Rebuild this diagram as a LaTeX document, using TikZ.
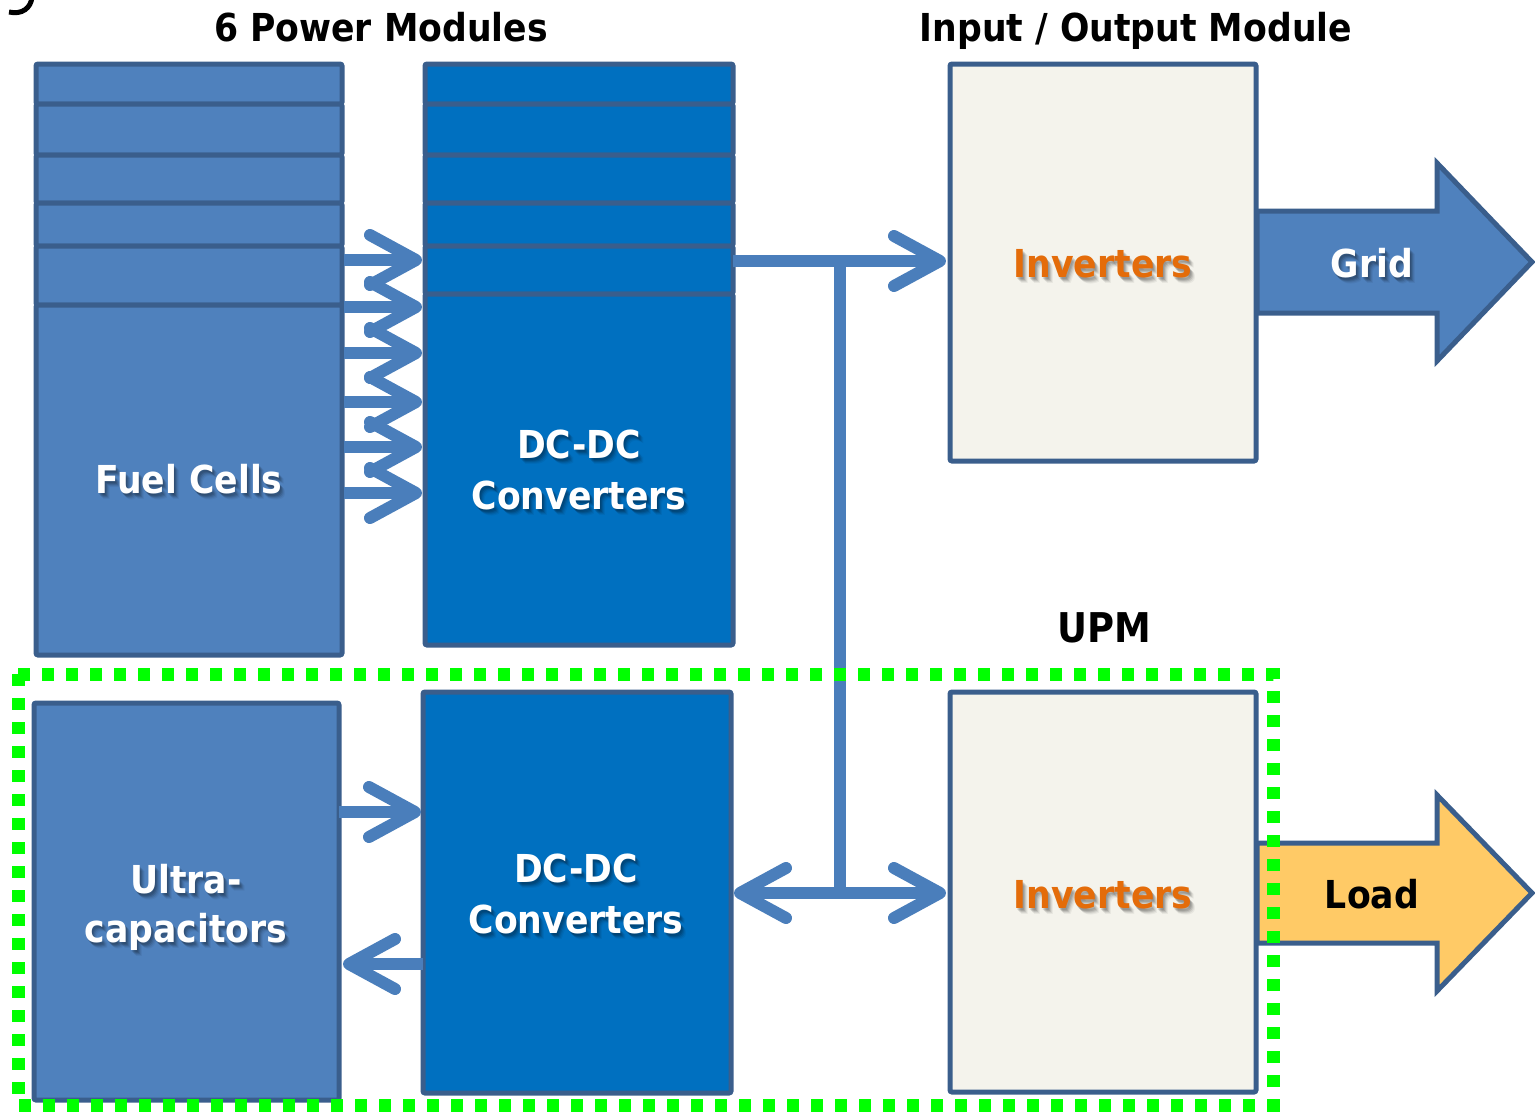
\documentclass[tikz,border=0pt]{standalone}
\usepackage{fontspec}
\setmainfont{DejaVu Sans Condensed}
\usetikzlibrary{arrows.meta,calc}

\definecolor{fcblue}{HTML}{4F81BD}
\definecolor{edgeblue}{HTML}{3A5E8C}
\definecolor{dcblue}{HTML}{0070C0}
\definecolor{invfill}{HTML}{F4F3EC}
\definecolor{invtext}{HTML}{E46C0A}
\definecolor{loadfill}{HTML}{FFCA66}
\definecolor{linkblue}{HTML}{4A7EBB}
\definecolor{upmgreen}{HTML}{00FF00}

% label with a soft drop shadow: name, position, style, text
\newcommand{\ShadowLabel}[4]{%
  \foreach \dx/\dy/\op in {1/2/0.10,2/3/0.12,3/4/0.10,4/5/0.07,5/6/0.05}
    \node[#3, text=black, opacity=\op, anchor=base] at ($(#2)+(\dx,\dy)$) {#4};
  \node[#3, anchor=base] (#1) at (#2) {#4};
}

\begin{document}
\begin{tikzpicture}[x=1pt,y=-1pt,
  block/.style={draw=edgeblue, line width=5pt, rounded corners=2pt,
    anchor=north west, inner sep=0pt, outer sep=0pt},
  fcblock/.style={block, fill=fcblue},
  dcblock/.style={block, fill=dcblue},
  invblock/.style={block, fill=invfill},
  bigarrow/.style={draw=edgeblue, line width=5pt, line join=miter},
  link/.style={draw=linkblue, line width=12pt,
    -{Straight Barb[length=46pt,width=50pt,round]}},
  trunk/.style={draw=linkblue, line width=12pt},
  header/.style={font=\bfseries\fontsize{38.5}{46}\selectfont, text=black, inner sep=0pt},
  boxlabel/.style={font=\bfseries\fontsize{38.5}{46}\selectfont, text=white, inner sep=0pt},
  invlabel/.style={font=\bfseries\fontsize{38.5}{46}\selectfont, text=invtext, inner sep=0pt},
  upmframe/.style={draw=upmgreen, line width=13pt, dash pattern=on 12pt off 12pt},
]
\useasboundingbox (0,0) rectangle (1535,1112);

% tail of a glyph cut off at the top edge
\draw[line width=5pt] (9,12) .. controls (22,15) and (31,8) .. (32,-3);

% fuel cell stack
\node[fcblock, minimum width=306pt, minimum height=40pt]  (fc1) at (36,64)  {};
\node[fcblock, minimum width=306pt, minimum height=51pt]  (fc2) at (36,104) {};
\node[fcblock, minimum width=306pt, minimum height=48pt]  (fc3) at (36,155) {};
\node[fcblock, minimum width=306pt, minimum height=43pt]  (fc4) at (36,203) {};
\node[fcblock, minimum width=306pt, minimum height=59pt]  (fc5) at (36,246) {};
\node[fcblock, minimum width=306pt, minimum height=350pt] (fc6) at (36,305) {};

% DC-DC converter stack
\node[dcblock, minimum width=308pt, minimum height=40pt]  (dc1) at (425,64)  {};
\node[dcblock, minimum width=308pt, minimum height=51pt]  (dc2) at (425,104) {};
\node[dcblock, minimum width=308pt, minimum height=48pt]  (dc3) at (425,155) {};
\node[dcblock, minimum width=308pt, minimum height=43pt]  (dc4) at (425,203) {};
\node[dcblock, minimum width=308pt, minimum height=48pt]  (dc5) at (425,246) {};
\node[dcblock, minimum width=308pt, minimum height=351pt] (dc6) at (425,294) {};

% UPM blocks
\node[fcblock, minimum width=305pt, minimum height=397pt] (uc)  at (34,703)  {};
\node[dcblock, minimum width=308pt, minimum height=401pt] (dc7) at (423,692) {};

% output arrows
\draw[bigarrow, fill=fcblue] (1257,211) -- (1437,211) -- (1437,163) -- (1532,262)
  -- (1437,361) -- (1437,313) -- (1257,313) -- cycle;
\draw[bigarrow, fill=loadfill] (1257,843) -- (1437,843) -- (1437,795) -- (1532,893)
  -- (1437,991) -- (1437,943) -- (1257,943) -- cycle;

% inverter blocks
\node[invblock, minimum width=306pt, minimum height=397pt] (inv1) at (950,64)  {};
\node[invblock, minimum width=306pt, minimum height=400pt] (inv2) at (950,692) {};

% fuel cells to converters
\foreach \y in {260,307,353,402,447,493}
  \draw[link] ($(fc6.east |- 0,\y)+(2,0)$) -- ($(dc6.west |- 0,\y)+(-3,0)$);

% DC bus
\coordinate (j1) at (840,261);
\coordinate (j2) at (840,893);
\draw[link] (dc5.east |- j1) -- ($(inv1.west |- j1)+(-4,0)$);
\draw[trunk] ($(j1)+(0,-6)$) -- (j2);
\draw[link] ($(j2)+(6,0)$) -- ($(dc7.east |- j2)+(3,0)$);
\draw[link] ($(j2)+(-6,0)$) -- ($(inv2.west |- j2)+(-4,0)$);

% ultracapacitor charge / discharge
\draw[link] (uc.east |- 0,812) -- ($(dc7.west |- 0,812)+(-2,0)$);
\draw[link] (dc7.west |- 0,964) -- ($(uc.east |- 0,964)+(4,0)$);

% labels
\node[header, anchor=base] (hpm) at (381,41) {6 Power Modules};
\node[header, anchor=base] (hio) at (1136,41) {Input / Output Module};
\node[header, anchor=base, font=\bfseries\fontsize{41}{48}\selectfont] (hupm) at (1104,642) {UPM};

\ShadowLabel{lfc}{189,493}{boxlabel}{Fuel Cells}
\ShadowLabel{ldc1a}{579,458}{boxlabel}{DC-DC}
\ShadowLabel{ldc1b}{579,509}{boxlabel}{Converters}
\ShadowLabel{ldc2a}{576,882}{boxlabel}{DC-DC}
\ShadowLabel{ldc2b}{576,933}{boxlabel}{Converters}
\ShadowLabel{luca}{186,893}{boxlabel}{Ultra-}
\ShadowLabel{lucb}{186,942}{boxlabel}{capacitors}
\ShadowLabel{linv1}{1103,277}{invlabel}{Inverters}
\ShadowLabel{linv2}{1103,908}{invlabel}{Inverters}
\ShadowLabel{lgrid}{1372,277}{boxlabel}{Grid}
\node[boxlabel, text=black, anchor=base] (lload) at (1372,908) {Load};

% UPM boundary
\draw[upmframe] (18,674) rectangle (1273,1105);
\end{tikzpicture}
\end{document}
